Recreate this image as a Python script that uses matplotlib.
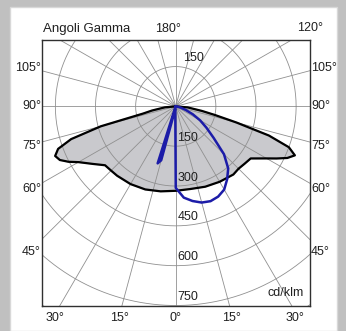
import numpy as np
import matplotlib
matplotlib.use('Agg')
import matplotlib.pyplot as plt
from matplotlib.patches import Rectangle

plt.rcParams['font.family'] = ['Liberation Sans', 'DejaVu Sans']

# ---- data (cd/klm) ----
gamma_c0 = [0, 10, 20, 30, 40, 45, 50, 55, 60, 62.5, 65, 67.5, 70, 72.5, 75, 77.5, 80, 85, 90]
int_c0 = [318, 316, 322, 328, 335, 332, 336, 342, 392, 425, 460, 482, 450, 365, 235, 150, 100, 45, 0]
int_c180 = [318, 325, 333, 338, 341, 342, 345, 378, 420, 452, 478, 488, 468, 410, 290, 125, 90, 40, 0]

gamma_c90 = [0, 5, 10, 15, 20, 25, 30, 35, 40, 45, 50, 55, 60, 65, 70, 75, 80, 90]
int_c90 = [307, 345, 362, 375, 380, 375, 362, 335, 305, 255, 185, 140, 105, 70, 40, 20, 8, 0]
gamma_c270 = [0, 5, 10, 15, 17.5, 20, 30, 90]
int_c270 = [307, 20, 10, 210, 225, 10, 0, 0]

radii = [150, 300, 450, 600, 750, 900]
radius_labels = ['150', '300', '450', '600', '750']
side_labels = ['105°', '90°', '75°', '60°', '45°']
bottom_labels = ['30°', '15°', '0°', '15°', '30°']
top_labels = ['180°', '120°']

W, H = 346, 331
fig = plt.figure(figsize=(W / 100, H / 100), dpi=100)
fig.patch.set_facecolor('#c0c0c0')
fig.add_artist(Rectangle((10 / W, 0), 327 / W, 324 / H, transform=fig.transFigure,
                         facecolor='white', edgecolor='#d8d8d8', lw=1.0, zorder=0))

# plot box in pixels: x 42..309, y 40..305
bx0, bx1, by0, by1 = 42, 309.5, 40, 305.5
ax = fig.add_axes([bx0 / W, 1 - by1 / H, (bx1 - bx0) / W, (by1 - by0) / H])
ax.set_xlim(-500, 500)
ax.set_ylim(-750, 250)
ax.set_xticks([])
ax.set_yticks([])
ax.set_facecolor('none')
for s in ax.spines.values():
    s.set_color('#303030')
    s.set_linewidth(1.0)


def to_xy(g, r, side):
    g = np.radians(np.asarray(g, float))
    r = np.asarray(r, float)
    return side * r * np.sin(g), -r * np.cos(g)


# grid circles
t = np.linspace(0, 2 * np.pi, 400)
for r in radii:
    ax.plot(r * np.cos(t), r * np.sin(t), color='#909090', lw=0.6, zorder=2)
# radial lines every 15 deg
for a in range(0, 360, 15):
    ar = np.radians(a)
    ax.plot([0, 1200 * np.sin(ar)], [0, -1200 * np.cos(ar)], color='#909090', lw=0.6, zorder=2)

# grey plane curve
xl, yl = to_xy(gamma_c0[::-1], int_c180[::-1], -1)
xr, yr = to_xy(gamma_c0, int_c0, 1)
gx = np.concatenate([xl, xr])
gy = np.concatenate([yl, yr])
ax.fill(gx, gy, color='#c4c4c8', zorder=1, alpha=0.9)
ax.plot(gx, gy, color='black', lw=1.6, zorder=3)

# blue plane curve
bxl, byl = to_xy(gamma_c270[::-1], int_c270[::-1], -1)
bxr, byr = to_xy(gamma_c90, int_c90, 1)
ax.plot(np.concatenate([bxl, bxr]), np.concatenate([byl, byr]), color='#1c1ca8', lw=1.8, zorder=4)

# radius labels
for r, lab in zip(radii, radius_labels):
    ax.text(6, -r + 32, lab, fontsize=9, color='#202020', ha='left', va='center', zorder=5)
ax.text(28, 150 + 32, radius_labels[0], fontsize=9, color='#202020', ha='left', va='center', zorder=5)


def ftext(px, py, s, size=9, **kw):
    fig.text(px / W, 1 - py / H, s, fontsize=size, color='#202020', **kw)


side_y = [68, 106, 146, 189, 252]
for lab, py in zip(side_labels, side_y):
    ftext(41, py, lab, ha='right', va='center')
    ftext(311, py, lab, ha='left', va='center')

bottom_x = [55.5, 119.5, 175.5, 231.5, 295.5]
for lab, px in zip(bottom_labels, bottom_x):
    ftext(px, 318, lab, ha='center', va='center')

ftext(43, 29, 'Angoli Gamma', size=9.5, ha='left', va='center')
ftext(168, 29, top_labels[0], ha='center', va='center')
ftext(310, 28, top_labels[1], ha='center', va='center')
ftext(304, 293, 'cd/klm', ha='right', va='center')

fig.savefig('out.png', dpi=100, facecolor=fig.get_facecolor())
